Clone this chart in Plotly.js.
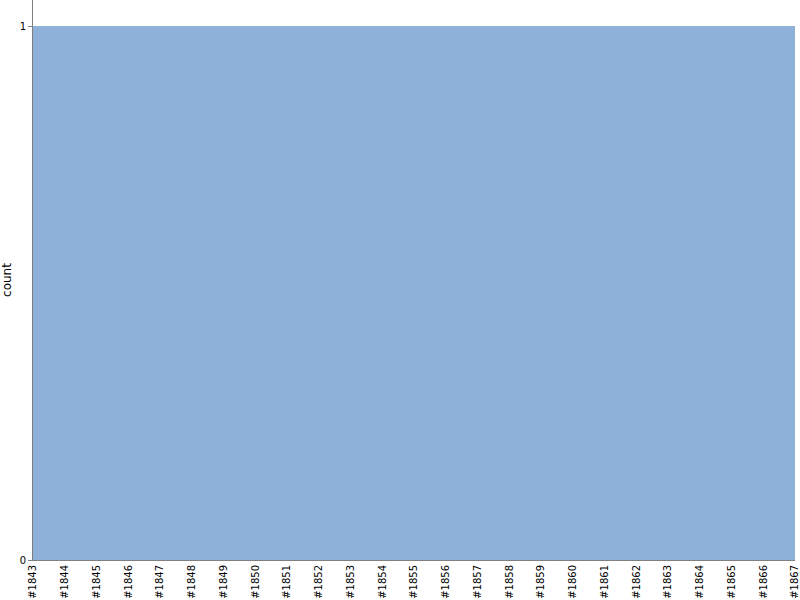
<!DOCTYPE html>
<html>
<head>
<meta charset="utf-8">
<script src="https://cdn.plot.ly/plotly-3.0.1.min.js"></script>
<style>
  html, body { margin: 0; padding: 0; background: #ffffff; }
  #chart { width: 800px; height: 600px; }
</style>
</head>
<body>
<div id="chart"></div>
<script>
// Datos del grafico
const categorias = ['#1843', '#1844', '#1845', '#1846', '#1847', '#1848', '#1849', '#1850', '#1851',
    '#1852', '#1853', '#1854', '#1855', '#1856', '#1857', '#1858', '#1859', '#1860', '#1861',
    '#1862', '#1863', '#1864', '#1865', '#1866', '#1867'];
const conteos = [1, 1, 1, 1, 1, 1, 1, 1, 1, 1, 1, 1, 1, 1, 1, 1, 1, 1, 1, 1, 1, 1, 1, 1, 1];
const ticksY = [0, 1];

const trace = {
    x: categorias,
    y: conteos,
    type: 'bar',
    marker: { color: '#8eb1da', line: { width: 0 } },
    hoverinfo: 'x+y'
};

const layout = {
    width: 800,
    height: 600,
    paper_bgcolor: '#ffffff',
    plot_bgcolor: '#ffffff',
    font: { family: "'DejaVu Sans', sans-serif", size: 10, color: '#000000' },
    margin: { t: 0, r: 5, b: 40, l: 33 },
    showlegend: false,
    bargap: 0,
    xaxis: {
        type: 'category',
        range: [0, categorias.length - 1],
        tickangle: -90,
        tickfont: { size: 10 },
        showgrid: false,
        zeroline: false,
        showline: true,
        linecolor: '#808080',
        linewidth: 1,
        ticks: '',
        automargin: false
    },
    yaxis: {
        title: { text: 'count', font: { size: 12 }, standoff: 5 },
        range: [0, 1.049],
        tickvals: ticksY,
        ticktext: ticksY.map(String),
        ticks: 'outside',
        ticklen: 4,
        tickcolor: '#808080',
        showgrid: false,
        zeroline: false,
        showline: true,
        linecolor: '#808080',
        linewidth: 1,
        automargin: false
    }
};

Plotly.newPlot('chart', [trace], layout, { displayModeBar: false, staticPlot: true });
</script>
</body>
</html>
